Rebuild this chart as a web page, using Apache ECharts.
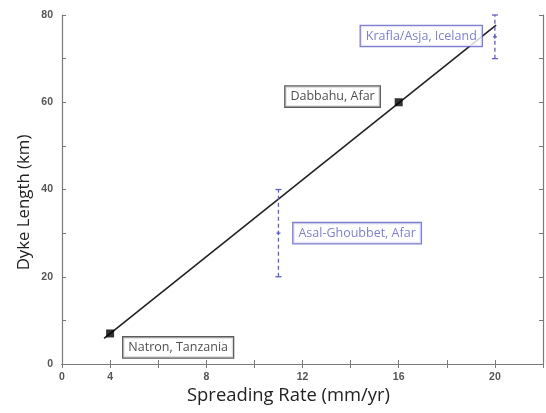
<!DOCTYPE html>
<html><head><meta charset="utf-8">
<script src="https://cdn.jsdelivr.net/npm/echarts@6/dist/echarts.min.js"></script>
<style>html,body{margin:0;padding:0;background:#fff}#c{width:546px;height:413px}</style>
</head><body><div id="c"></div>
<script>
// Data
const fitLineX = [3.75, 20.05];
const fitLineY = [5.9, 77.7];
const pointNames = ['Natron, Tanzania', 'Dabbahu, Afar'];
const pointX = [4, 16];
const pointY = [7, 60];
const rangeNames = ['Asal-Ghoubbet, Afar', 'Krafla/Asja, Iceland'];
const rangeX = [11, 20];
const rangeLow = [20, 70];
const rangeHigh = [40, 80];
const labelNames = ['Krafla/Asja, Iceland', 'Dabbahu, Afar', 'Asal-Ghoubbet, Afar', 'Natron, Tanzania'];
const labelX = [16.94, 13.25, 14.27, 6.83];
const labelY = [75.2, 61.3, 30.0, 3.8];
const labelBlue = [true, false, true, false];
const xTickLabels = {2: '0', 4: '4', 8: '8', 12: '12', 16: '16', 20: '20'};
const yTickLabels = {0: '0', 20: '20', 40: '40', 60: '60', 80: '80'};
const xTitle = 'Spreading Rate (mm/yr)';
const yTitle = 'Dyke Length (km)';

const BLUE = '#5f5fc4';
const AXIS = '#7a7a7a';
const chart = echarts.init(document.getElementById('c'));

const axBase = {
  type: 'value',
  axisLine: {show: true, lineStyle: {color: AXIS, width: 1.2}},
  axisTick: {show: true, inside: true, length: 4, lineStyle: {color: AXIS}},
  splitLine: {show: false}
};
const tickFont = {fontFamily: 'Liberation Sans', fontWeight: 'bold', fontSize: 10.5, color: '#555'};

chart.setOption({
  animation: false,
  backgroundColor: '#fff',
  grid: {left: 62, right: 1, top: 15, bottom: 49},
  graphic: [
    {type: 'text', x: 288.5, y: 396, style: {text: xTitle, fontFamily: 'Open Sans', fontSize: 18.4, fill: '#222', align: 'center', verticalAlign: 'middle'}},
    {type: 'text', x: 24, y: 202.5, rotation: Math.PI / 2, style: {text: yTitle, fontFamily: 'Open Sans', fontSize: 16.8, fill: '#222', align: 'center', verticalAlign: 'middle'}}
  ],
  xAxis: [
    Object.assign({}, axBase, {
      min: 2, max: 22, interval: 2, position: 'bottom',
      axisLabel: Object.assign({formatter: v => xTickLabels[v] || '', margin: 8}, tickFont)
    }),
    Object.assign({}, axBase, {min: 2, max: 22, interval: 2, position: 'top', axisLabel: {show: false}})
  ],
  yAxis: [
    Object.assign({}, axBase, {
      min: 0, max: 80, interval: 10, position: 'left',
      axisLabel: Object.assign({formatter: v => yTickLabels[v] || '', margin: 9}, tickFont)
    }),
    Object.assign({}, axBase, {min: 0, max: 80, interval: 10, position: 'right', axisLabel: {show: false}})
  ],
  series: [
    {
      type: 'line', xAxisIndex: 0, yAxisIndex: 0, symbol: 'none',
      data: fitLineX.map((x, i) => [x, fitLineY[i]]),
      lineStyle: {color: '#222', width: 1.6}, z: 2
    },
    {
      type: 'custom', xAxisIndex: 0, yAxisIndex: 0,
      data: rangeX.map((x, i) => [x, rangeLow[i], rangeHigh[i]]),
      renderItem: function (params, api) {
        const lo = api.coord([api.value(0), api.value(1)]);
        const hi = api.coord([api.value(0), api.value(2)]);
        const mid = [lo[0], (lo[1] + hi[1]) / 2];
        const st = {stroke: BLUE, lineWidth: 1.3, fill: 'none'};
        const dash = Object.assign({}, st, {lineDash: [4, 3]});
        return {type: 'group', children: [
          {type: 'line', shape: {x1: lo[0], y1: lo[1], x2: hi[0], y2: hi[1]}, style: dash},
          {type: 'line', shape: {x1: lo[0] - 3, y1: lo[1], x2: lo[0] + 3, y2: lo[1]}, style: st},
          {type: 'line', shape: {x1: hi[0] - 3, y1: hi[1], x2: hi[0] + 3, y2: hi[1]}, style: st},
          {type: 'line', shape: {x1: mid[0] - 2, y1: mid[1], x2: mid[0] + 2, y2: mid[1]}, style: st},
          {type: 'line', shape: {x1: mid[0], y1: mid[1] - 2, x2: mid[0], y2: mid[1] + 2}, style: st}
        ]};
      },
      z: 3
    },
    {
      type: 'scatter', xAxisIndex: 0, yAxisIndex: 0,
      data: pointX.map((x, i) => ({name: pointNames[i], value: [x, pointY[i]]})),
      symbol: 'rect', symbolSize: 8,
      itemStyle: {color: '#000'}, z: 4
    },
    {
      type: 'scatter', xAxisIndex: 0, yAxisIndex: 0,
      symbolSize: 0, silent: true,
      data: labelNames.map((n, i) => ({
        name: n, value: [labelX[i], labelY[i]],
        label: {
          show: true, position: 'inside', formatter: n,
          fontFamily: 'Open Sans', fontSize: 12.5,
          color: labelBlue[i] ? BLUE : '#222',
          backgroundColor: '#fff',
          borderColor: labelBlue[i] ? BLUE : '#333',
          borderWidth: 1.3,
          padding: [4, 5, 3, 5]
        }
      })),
      z: 5
    }
  ]
});
</script></body></html>
